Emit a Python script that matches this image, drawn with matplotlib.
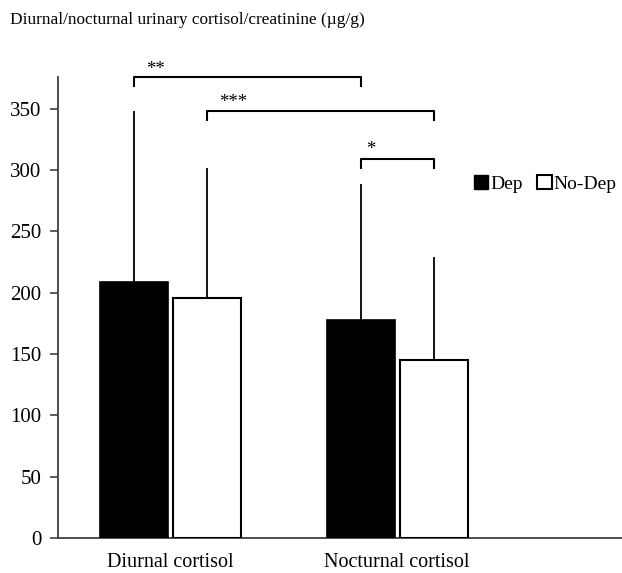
import matplotlib
matplotlib.use("Agg")
import matplotlib.pyplot as plt
import numpy as np
from matplotlib.patches import Patch

categories = ["Diurnal cortisol", "Nocturnal cortisol"]
dep_means = [209, 178]
nodep_means = [196, 145]
dep_err = [139, 111]      # upper error bar lengths
nodep_err = [106, 84]
yticks = [0, 50, 100, 150, 200, 250, 300, 350]
title = "Diurnal/nocturnal urinary cortisol/creatinine (\u00b5g/g)"

plt.rcParams['font.family'] = ['Liberation Serif', 'DejaVu Serif']

fig = plt.figure(figsize=(6.22, 5.73), dpi=100)
ax = fig.add_axes([58/622, 35/573, 1 - 58/622, (538-77)/573])

x = np.arange(len(categories))
off = 0.161
w = 0.30
ax.bar(x - off, dep_means, width=w, color='black', edgecolor='black', linewidth=1.2, zorder=3)
ax.bar(x + off, nodep_means, width=w, color='white', edgecolor='black', linewidth=1.5, zorder=3)
ax.errorbar(x - off, dep_means, yerr=[np.zeros(2), dep_err], fmt='none', ecolor='black',
            elinewidth=1.3, capsize=0, zorder=2)
ax.errorbar(x + off, nodep_means, yerr=[np.zeros(2), nodep_err], fmt='none', ecolor='black',
            elinewidth=1.3, capsize=0, zorder=2)

ax.set_ylim(0, 376)
ax.set_xlim(-0.497, 1.993)
ax.set_yticks(yticks)
ax.set_xticks(x)
ax.set_xticklabels(categories, fontsize=14.5)
ax.tick_params(axis='y', labelsize=15, length=6, width=1.2, color='#404040', pad=6)
ax.tick_params(axis='x', length=0, pad=11)
for s in ['top', 'right']:
    ax.spines[s].set_visible(False)
for s in ['left', 'bottom']:
    ax.spines[s].set_color('#404040')
    ax.spines[s].set_linewidth(1.3)

def bracket(x1, x2, ytop, label, lx, ly):
    ax.plot([x1, x1, x2, x2], [ytop - 7, ytop, ytop, ytop - 7], color='black', lw=1.5,
            clip_on=False, zorder=4)
    ax.text(lx, ly, label, ha='center', va='center', fontsize=13.5, clip_on=False)

bracket(x[0] - off, x[1] - off, 376, "**", -0.068, 382)
bracket(x[0] + off, x[1] + off, 348, "***", 0.276, 355)
bracket(x[1] - off, x[1] + off, 309, "*", 0.885, 317)

fig.text(10/622, 1 - 20/573, title, fontsize=12.4, ha='left', va='center')

handles = [Patch(facecolor='black', edgecolor='black', label='Dep'),
           Patch(facecolor='white', edgecolor='black', linewidth=1.5, label='No-Dep')]
fig.legend(handles=handles, loc='center left', bbox_to_anchor=(464/622, 1 - 184/573),
           ncol=2, frameon=False, fontsize=14, handlelength=0.75, handleheight=0.75,
           handletextpad=0.1, columnspacing=0.75, borderpad=0)

fig.savefig("out.png", dpi=100)
